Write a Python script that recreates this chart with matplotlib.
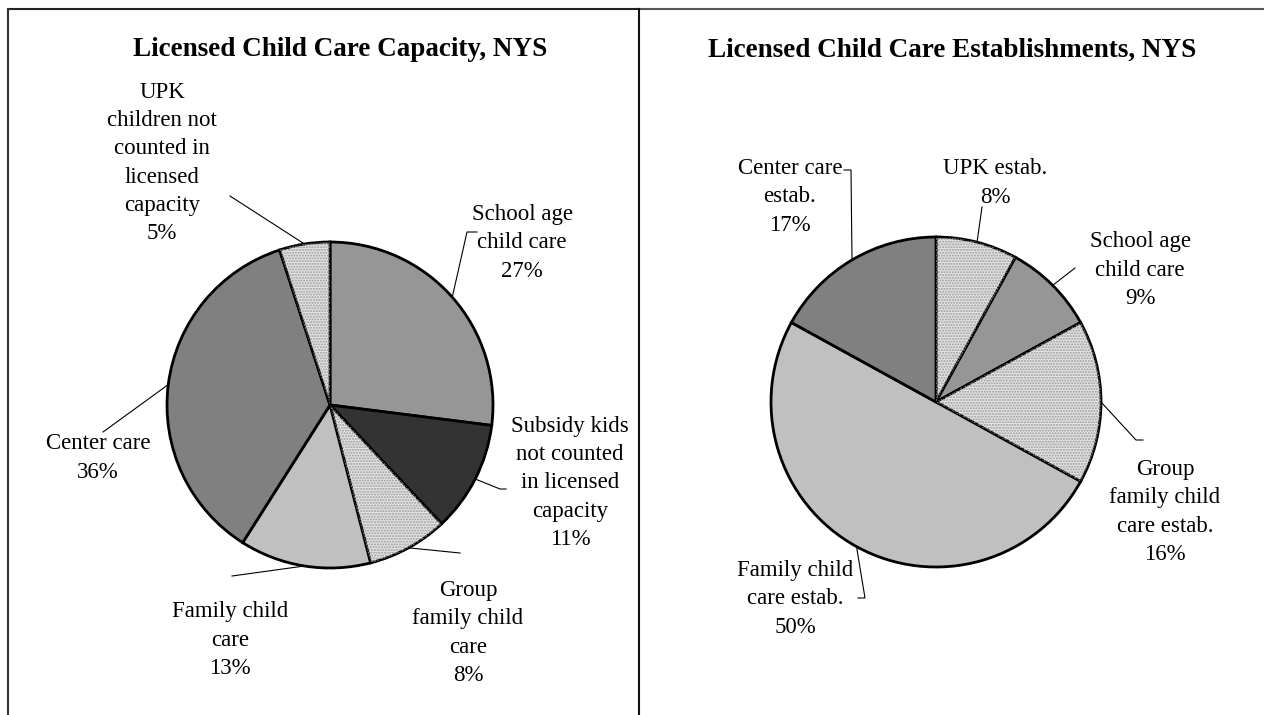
import matplotlib
matplotlib.use("Agg")
import matplotlib.pyplot as plt
from matplotlib.patches import Wedge
import numpy as np

plt.rcParams['font.family'] = ['Liberation Serif', 'DejaVu Serif']

# data
capacity_title = "Licensed Child Care Capacity, NYS"
capacity_labels = ["School age\nchild care", "Subsidy kids\nnot counted\nin licensed\ncapacity",
                   "Group\nfamily child\ncare", "Family child\ncare", "Center care",
                   "UPK\nchildren not\ncounted in\nlicensed\ncapacity"]
capacity_pct = [27, 11, 8, 13, 36, 5]

estab_title = "Licensed Child Care Establishments, NYS"
estab_labels = ["UPK estab.", "School age\nchild care", "Group\nfamily child\ncare estab.",
                "Family child\ncare estab.", "Center care\nestab."]
estab_pct = [8, 9, 16, 50, 17]

W, H = 1264, 715
FILL = {"school": "#969696", "subsidy": "#333333", "dots": "#e4e4e4",
        "family": "#c0c0c0", "center": "#808080"}
cap_fill = ["school", "subsidy", "dots", "family", "center", "dots"]
est_fill = ["dots", "school", "dots", "family", "center"]

# layout in pixels (y from top)
DIV_X = 639
cap_pie = dict(center=(330, 405), r=163)
est_pie = dict(center=(936, 402), r=165)
cap_text = [(522, 243), (570, 483), (468, 633), (230, 640), (98, 458), (162, 163)]
cap_anchor = [[(467, 232), (477, 232)], [(500, 489), (506, 489)], [(460, 553)],
              [(232, 576)], [(103, 432)], [(230, 196)]]
est_text = [(995, 183), (1140, 270), (1165, 512), (795, 599), (790, 197)]
est_anchor = [[(982, 207)], [(1075, 268)], [(1136, 440), (1143, 440)],
              [(865, 598), (858, 598)], [(851, 170), (844, 170)]]

LABEL_SIZE = 16.5
TITLE_SIZE = 19.5


def py(y):
    return H - y


fig = plt.figure(figsize=(W / 100, H / 100), dpi=100)
ax = fig.add_axes([0, 0, 1, 1])

# frame
ax.plot([8, DIV_X], [py(9), py(9)], color='#222222', lw=1.5)
ax.plot([DIV_X, W], [py(9), py(9)], color='#555555', lw=1.5)
ax.plot([8, 8], [py(9), 0], color='#333333', lw=1.5)
ax.plot([DIV_X, DIV_X], [py(9), 0], color='#111111', lw=1.5)


def draw_pie(pct, fills, labels, pie, text_pos, anchors, title, title_x):
    cx, cy = pie["center"][0], py(pie["center"][1])
    r = pie["r"]
    wedges, _ = ax.pie(pct, colors=[FILL[f] for f in fills], startangle=90,
                       counterclock=False, center=(cx, cy), radius=r,
                       wedgeprops=dict(edgecolor='black', linewidth=2),
                       frame=True)
    for w, f in zip(wedges, fills):
        if f == "dots":
            ax.add_patch(Wedge((cx, cy), r, w.theta1, w.theta2, facecolor='none',
                               edgecolor='#9a9a9a', hatch='......', lw=0,
                               zorder=w.get_zorder() + 0.1))
    for w, lab, p, tp, anc in zip(wedges, labels, pct, text_pos, anchors):
        ax.text(tp[0], py(tp[1]), f"{lab}\n{p}%", ha='center', va='center',
                fontsize=LABEL_SIZE, linespacing=1.45)
        if anc is None:
            continue
        mid = np.deg2rad((w.theta1 + w.theta2) / 2)
        xs = [cx + r * np.cos(mid)] + [a[0] for a in anc]
        ys = [cy + r * np.sin(mid)] + [py(a[1]) for a in anc]
        ax.plot(xs, ys, color='black', lw=0.8)
    ax.text(title_x, py(50), title, ha='center', va='center',
            fontsize=TITLE_SIZE, fontweight='bold')


draw_pie(capacity_pct, cap_fill, capacity_labels, cap_pie, cap_text, cap_anchor,
         capacity_title, 340)
draw_pie(estab_pct, est_fill, estab_labels, est_pie, est_text, est_anchor,
         estab_title, 952)

ax.set_xlim(0, W)
ax.set_ylim(0, H)
ax.set_aspect('equal')
ax.axis('off')

fig.savefig("out.png", dpi=100)
